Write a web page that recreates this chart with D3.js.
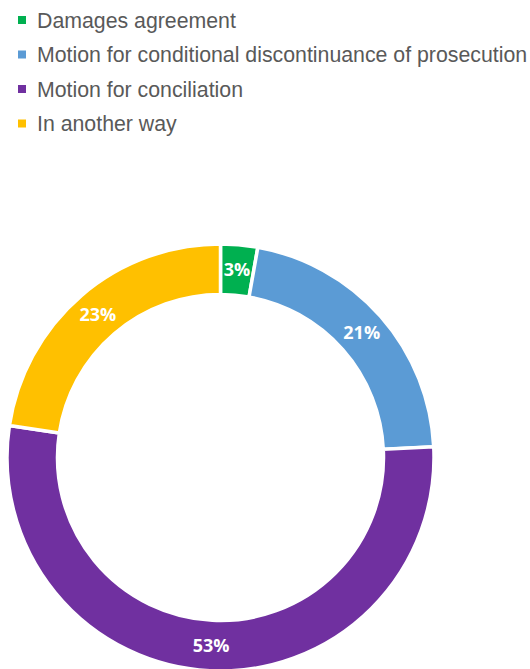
<!DOCTYPE html>
<html>
<head>
<meta charset="utf-8">
<script src="https://cdn.jsdelivr.net/npm/d3@7"></script>
<style>
  html, body { margin: 0; padding: 0; background: #fff; }
  svg { display: block; }
</style>
</head>
<body>
<svg id="chart" width="530" height="669"></svg>
<script>
// --- data ---
const categories = [
  "Damages agreement",
  "Motion for conditional discontinuance of prosecution",
  "Motion for conciliation",
  "In another way"
];
const shares = [2.8, 21.4, 53.2, 22.6];
const colors = ["#00B050", "#5B9BD5", "#7030A0", "#FFC000"];

const svg = d3.select("#chart");
const width = 530, height = 669;

// --- legend ---
const legend = svg.append("g").attr("transform", "translate(18,20)");
const rowGap = 34.5;
const items = legend.selectAll("g")
  .data(categories)
  .join("g")
  .attr("transform", (d, i) => `translate(0,${i * rowGap})`);

items.append("rect")
  .attr("x", 0).attr("y", -4)
  .attr("width", 8).attr("height", 8)
  .attr("fill", (d, i) => colors[i]);

items.append("text")
  .attr("x", 19).attr("y", 7.5)
  .attr("font-family", "Liberation Sans, Arial, sans-serif")
  .attr("font-size", 21.3)
  .attr("fill", "#595959")
  .text(d => d);

// --- donut ---
const cx = 220.5, cy = 457.5;
const outerR = 213.5, innerR = 163;

const pie = d3.pie().sort(null).value(d => d);
const arcs = pie(shares);
const arc = d3.arc().innerRadius(innerR).outerRadius(outerR);
const labelArc = d3.arc().innerRadius((innerR + outerR) / 2).outerRadius((innerR + outerR) / 2);

const g = svg.append("g").attr("transform", `translate(${cx},${cy})`);

g.selectAll("path")
  .data(arcs)
  .join("path")
  .attr("d", arc)
  .attr("fill", (d, i) => colors[i])
  .attr("stroke", "#fff")
  .attr("stroke-width", 3.5);

g.selectAll("text")
  .data(arcs)
  .join("text")
  .attr("transform", d => `translate(${labelArc.centroid(d)})`)
  .attr("text-anchor", "middle")
  .attr("dy", "0.36em")
  .attr("font-family", "Open Sans, Lato, sans-serif")
  .attr("font-weight", "bold")
  .attr("font-size", 18)
  .attr("fill", "#fff")
  .text(d => Math.round(d.data) + "%");
</script>
</body>
</html>
